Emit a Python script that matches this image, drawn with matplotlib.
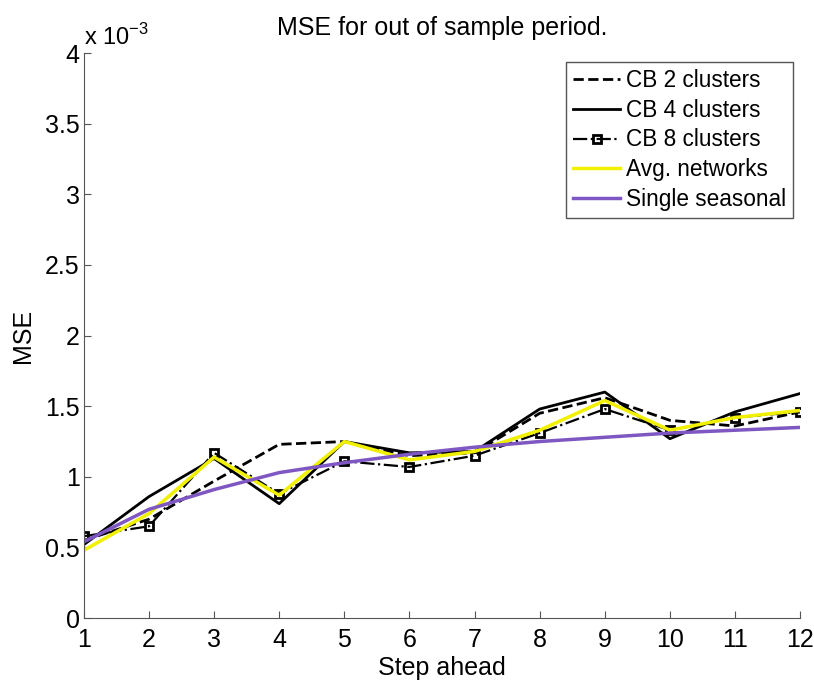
import numpy as np
import matplotlib.pyplot as plt

plt.rcParams['font.family'] = ['Liberation Sans', 'DejaVu Sans']

# MSE values in units of 1e-3
steps = [1, 2, 3, 4, 5, 6, 7, 8, 9, 10, 11, 12]
cb2 = [0.55, 0.70, 0.97, 1.23, 1.25, 1.15, 1.17, 1.45, 1.56, 1.40, 1.36, 1.46]
cb4 = [0.52, 0.86, 1.13, 0.81, 1.25, 1.17, 1.18, 1.48, 1.60, 1.27, 1.46, 1.59]
cb8 = [0.58, 0.65, 1.17, 0.88, 1.11, 1.07, 1.15, 1.31, 1.48, 1.33, 1.42, 1.46]
avg_net = [0.48, 0.74, 1.14, 0.87, 1.25, 1.12, 1.18, 1.33, 1.54, 1.33, 1.42, 1.47]
single = [0.54, 0.77, 0.91, 1.03, 1.10, 1.16, 1.21, 1.25, 1.28, 1.31, 1.33, 1.35]

yticks = [0, 0.5, 1, 1.5, 2, 2.5, 3, 3.5, 4]
ytick_labels = ['0', '0.5', '1', '1.5', '2', '2.5', '3', '3.5', '4']

fig = plt.figure(figsize=(8.14, 6.8), dpi=100)
ax = fig.add_axes([0.103, 0.091, 0.880, 0.831])

ax.plot(steps, cb2, color='black', ls='--', lw=2, label='CB 2 clusters')
ax.plot(steps, cb4, color='black', ls='-', lw=2, label='CB 4 clusters')
ax.plot(steps, cb8, color='black', ls='-.', lw=1.6, marker='s', ms=6,
        mfc='none', mew=2, label='CB 8 clusters')
ax.plot(steps, avg_net, color='#F0F000', lw=2.5, label='Avg. networks')
ax.plot(steps, single, color='#7E57C2', lw=2.5, label='Single seasonal')

ax.set_xlim(1, 12)
ax.set_ylim(0, 4)
ax.set_xticks(steps)
ax.set_yticks(yticks)
ax.set_yticklabels(ytick_labels)

for s in ['top', 'right']:
    ax.spines[s].set_visible(False)
for s in ['left', 'bottom']:
    ax.spines[s].set_color('#555555')
ax.tick_params(direction='in', length=5, color='#555555', labelsize=18)
ax.tick_params(axis='x', pad=7)
ax.tick_params(axis='y', pad=3)

ax.text(0.0, 1.014, r'x 10$^{\mathregular{-3}}$', transform=ax.transAxes,
        fontsize=17, ha='left', va='baseline')

ax.set_title('MSE for out of sample period.', fontsize=18, pad=13)
ax.set_xlabel('Step ahead', fontsize=18, labelpad=3)
ax.set_ylabel('MSE', fontsize=18, labelpad=7)

leg = ax.legend(loc='upper right', bbox_to_anchor=(0.99, 0.984), fontsize=16.3,
                handlelength=2.1, handletextpad=0.25, labelspacing=0.3,
                borderpad=0.3, fancybox=False, framealpha=1, borderaxespad=0)
leg.get_frame().set_edgecolor('#555555')
leg.get_frame().set_linewidth(1)

fig.savefig('out.png', dpi=100)
